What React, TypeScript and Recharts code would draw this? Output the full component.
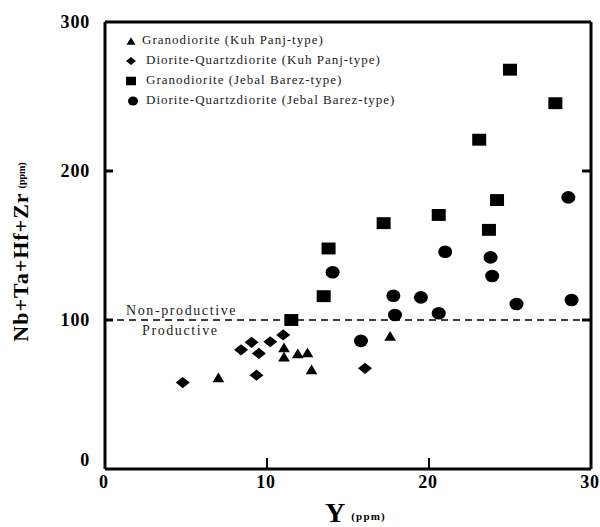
import React from "react";
import { ScatterChart, Scatter, XAxis, YAxis, ReferenceLine, Legend } from "recharts";

const FONT = "'Liberation Serif', 'Times New Roman', serif";

const xTicks = [0, 10, 20, 30];
const yTicks = [0, 100, 200, 300];
const xInnerTicks = [10, 20];
const yInnerTicks = [100, 200];

const kpGranoX = [7.0, 11.05, 11.05, 11.9, 12.5, 12.75, 17.6];
const kpGranoY = [61.5, 81.7, 75.4, 77.6, 78.3, 66.9, 89.3];

const kpDioriteX = [4.8, 8.4, 9.05, 9.5, 9.35, 10.2, 11.0, 16.05];
const kpDioriteY = [58, 80, 85, 77.6, 63, 85.4, 90, 67.6];

const jbGranoX = [11.5, 13.5, 13.8, 17.2, 20.6, 23.7, 24.2, 23.1, 25.0, 27.8];
const jbGranoY = [100, 116, 148, 165, 170.5, 160.5, 180.5, 221, 268, 245.5];

const jbDioriteX = [15.8, 14.05, 17.8, 17.9, 19.5, 20.6, 21.0, 23.8, 23.9, 25.4, 28.6, 28.8];
const jbDioriteY = [86, 132, 116.3, 103.4, 115.2, 104.5, 145.8, 142, 129.5, 110.7, 182.3, 113.4];

const legendNames = [
  "Granodiorite (Kuh Panj-type)",
  "Diorite-Quartzdiorite (Kuh Panj-type)",
  "Granodiorite (Jebal Barez-type)",
  "Diorite-Quartzdiorite (Jebal Barez-type)",
];
const legendShapes = ["triangle", "diamond", "square", "circle"];

const threshold = 100;

const zip = (xs: number[], ys: number[]) => xs.map((x, i) => ({ x, y: ys[i] }));

const drawShape = (kind: string, cx: number, cy: number, s: number) => {
  if (kind === "triangle") {
    const w = s * 0.9, h = s * 0.75;
    return <polygon points={`${cx},${cy - h / 2} ${cx + w / 2},${cy + h / 2} ${cx - w / 2},${cy + h / 2}`} fill="#000" />;
  }
  if (kind === "diamond") {
    const w = s, h = s * 0.8;
    return <polygon points={`${cx},${cy - h / 2} ${cx + w / 2},${cy} ${cx},${cy + h / 2} ${cx - w / 2},${cy}`} fill="#000" />;
  }
  if (kind === "square") {
    const w = s, h = s * 0.85;
    return <rect x={cx - w / 2} y={cy - h / 2} width={w} height={h} fill="#000" />;
  }
  return <ellipse cx={cx} cy={cy} rx={s / 2} ry={s * 0.45} fill="#000" />;
};

const shapeFor = (kind: string, s: number) => (props: any) => {
  const { cx, cy } = props;
  if (cx == null || cy == null) return <g />;
  return drawShape(kind, cx, cy, s);
};

// inward ticks on left and right frame edges
const HTickShape = (props: any) => {
  const { x1, y1, x2, y2 } = props;
  if (x1 == null) return <g />;
  const l = Math.min(x1, x2), r = Math.max(x1, x2);
  return (
    <g>
      <line x1={l} y1={y1} x2={l + 8} y2={y2} stroke="#000" strokeWidth={3} />
      <line x1={r - 9} y1={y1} x2={r} y2={y2} stroke="#000" strokeWidth={3} />
    </g>
  );
};

// inward ticks on bottom frame edge
const VTickShape = (props: any) => {
  const { x1, y1, y2 } = props;
  if (x1 == null) return <g />;
  const b = Math.max(y1, y2);
  return <line x1={x1} y1={b} x2={x1} y2={b - 11} stroke="#000" strokeWidth={2} />;
};

const LeftTick = (props: any) => {
  const { x, y, payload } = props;
  const v = payload.value;
  return (
    <text x={x - 15} y={v === 0 ? y - 9 : y} dy="0.35em" textAnchor="end" fontFamily={FONT} fontWeight="bold" fontSize={18} letterSpacing={0.8} fill="#000">
      {v}
    </text>
  );
};

const BottomTick = (props: any) => {
  const { x, y, payload } = props;
  const v = payload.value;
  return (
    <text x={x - 1} y={y + 13} dy="0.35em" textAnchor="middle" fontFamily={FONT} fontWeight="bold" fontSize={18} letterSpacing={0.8} fill="#000">
      {v}
    </text>
  );
};

const XLabel = () => (
  <text x={325} y={522} fontFamily={FONT} fontWeight="bold" fill="#000">
    <tspan fontSize={28}>Y</tspan>
    <tspan fontSize={11} letterSpacing={1.2} dx={6} dy={-2}>(ppm)</tspan>
  </text>
);

const YLabel = () => (
  <text transform="translate(28,252) rotate(-90)" textAnchor="middle" fontFamily={FONT} fontWeight="bold" fill="#000">
    <tspan fontSize={22} letterSpacing={1}>Nb+Ta+Hf+Zr</tspan>
    <tspan fontSize={10} dx={4} dy={-3}>(ppm)</tspan>
  </text>
);

const ThresholdLabel = (props: any) => {
  const vb = props.viewBox || {};
  const y = vb.y ?? 320;
  const x = vb.x ?? 105;
  return (
    <g fontFamily={FONT} fontSize={14} letterSpacing={1.6} fill="#222">
      <text x={x + 21} y={y - 5}>Non-productive</text>
      <text x={x + 37} y={y + 15}>Productive</text>
    </g>
  );
};

const LegendContent = () => (
  <div style={{ fontFamily: FONT, fontSize: 13, letterSpacing: 1, color: "#1a1a1a", lineHeight: "20px" }}>
    {legendNames.map((name, i) => (
      <div key={name} style={{ display: "flex", alignItems: "center", height: 20, whiteSpace: "nowrap" }}>
        <svg width={i === 0 ? 16 : 20} height={14} style={{ marginRight: 2 }}>
          {drawShape(legendShapes[i], i === 3 ? 9 : 7, 8, 10)}
        </svg>
        <span>{name}</span>
      </div>
    ))}
  </div>
);

export default function App() {
  return (
    <div style={{ position: "absolute", left: 0, top: 0, width: 600, height: 527, background: "#fff" }}>
      <ScatterChart width={600} height={527} margin={{ top: 22, right: 9, bottom: 0, left: 0 }}>
        <XAxis xAxisId="x" dataKey="x" type="number" domain={[0, 30]} ticks={xTicks} interval={0}
          height={58} tickSize={0} tickMargin={0} tickLine={false}
          axisLine={false} tick={<BottomTick />} label={<XLabel />} />
        <YAxis yAxisId="y" dataKey="y" type="number" domain={[0, 300]} ticks={yTicks} interval={0}
          width={105} tickSize={0} tickMargin={0} tickLine={false}
          axisLine={false} tick={<LeftTick />} label={<YLabel />} />
        <ReferenceLine xAxisId="x" yAxisId="y" y={threshold} stroke="#000" strokeWidth={1.5}
          strokeDasharray="7 5" label={<ThresholdLabel />} />
        {yInnerTicks.map((v) => (
          <ReferenceLine key={`h${v}`} xAxisId="x" yAxisId="y" y={v} shape={<HTickShape />} />
        ))}
        {xInnerTicks.map((v) => (
          <ReferenceLine key={`v${v}`} xAxisId="x" yAxisId="y" x={v} shape={<VTickShape />} />
        ))}
        <ReferenceLine xAxisId="x" yAxisId="y" y={0} stroke="#000" strokeWidth={3} />
        <ReferenceLine xAxisId="x" yAxisId="y" y={300} stroke="#000" strokeWidth={3} />
        <ReferenceLine xAxisId="x" yAxisId="y" x={0} stroke="#000" strokeWidth={3} />
        <ReferenceLine xAxisId="x" yAxisId="y" x={30} stroke="#000" strokeWidth={3} />
        <Legend layout="vertical" align="center" verticalAlign="middle" content={<LegendContent />}
          wrapperStyle={{ position: "absolute", left: 124, top: 30, width: 360, height: 84 }} />
        <Scatter xAxisId="x" yAxisId="y" name={legendNames[0]} data={zip(kpGranoX, kpGranoY)} shape={shapeFor("triangle", 13)} isAnimationActive={false} />
        <Scatter xAxisId="x" yAxisId="y" name={legendNames[1]} data={zip(kpDioriteX, kpDioriteY)} shape={shapeFor("diamond", 14)} isAnimationActive={false} />
        <Scatter xAxisId="x" yAxisId="y" name={legendNames[2]} data={zip(jbGranoX, jbGranoY)} shape={shapeFor("square", 14)} isAnimationActive={false} />
        <Scatter xAxisId="x" yAxisId="y" name={legendNames[3]} data={zip(jbDioriteX, jbDioriteY)} shape={shapeFor("circle", 14)} isAnimationActive={false} />
      </ScatterChart>
    </div>
  );
}
